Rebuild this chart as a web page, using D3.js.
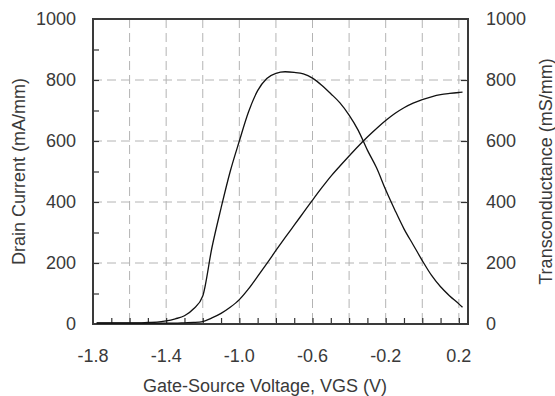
<!DOCTYPE html>
<html>
<head>
<meta charset="utf-8">
<script src="https://cdn.jsdelivr.net/npm/d3@7"></script>
<style>
  html, body { margin: 0; padding: 0; background: #fff; }
  svg text { font-family: Arial, "Liberation Sans", sans-serif; fill: #3a3a3a; }
</style>
</head>
<body>
<div id="chart"></div>
<script>
// gate-source voltage samples (V)
const vgs = [-1.78, -1.75, -1.70, -1.65, -1.60, -1.55, -1.50, -1.45, -1.40, -1.35,
  -1.30, -1.25, -1.20, -1.15, -1.10, -1.05, -1.00, -0.95, -0.90, -0.85,
  -0.80, -0.75, -0.70, -0.65, -0.60, -0.55, -0.50, -0.45, -0.40, -0.35,
  -0.30, -0.25, -0.20, -0.15, -0.10, -0.05, 0.00, 0.05, 0.10, 0.15, 0.20, 0.22];
// drain current (mA/mm)
const drainCurrent = [3, 3, 3, 3, 3, 3, 3, 3, 3, 3,
  4, 5, 8, 20, 35, 55, 80, 115, 156, 198,
  241, 283, 324, 365, 406, 446, 484, 518, 551, 583,
  613, 641, 667, 690, 709, 724, 736, 745, 752, 756, 759, 760];
// transconductance (mS/mm)
const transconductance = [4, 4, 4, 4, 4, 4, 5, 6, 10, 17,
  27, 50, 92, 250, 380, 500, 600, 695, 765, 805,
  822, 827, 825, 820, 806, 783, 755, 725, 685, 635,
  570, 512, 440, 374, 312, 260, 208, 160, 122, 92, 66, 55];

const xTickLabels = [-1.8, -1.4, -1.0, -0.6, -0.2, 0.2];
const yTickLabels = [0, 200, 400, 600, 800, 1000];

const width = 555, height = 396;
const margin = { top: 19, right: 87, bottom: 72, left: 93 };
const innerW = width - margin.left - margin.right;
const innerH = height - margin.top - margin.bottom;

const svg = d3.select('#chart').append('svg')
  .attr('width', width).attr('height', height);

const g = svg.append('g').attr('transform', `translate(${margin.left},${margin.top})`);

const x = d3.scaleLinear().domain([-1.8, 0.25]).range([0, innerW]);
const yL = d3.scaleLinear().domain([0, 1000]).range([innerH, 0]);
const yR = d3.scaleLinear().domain([0, 1000]).range([innerH, 0]);

// dashed grid
const gridX = d3.range(-1.6, 0.21, 0.2);
g.selectAll('line.gx').data(gridX).enter().append('line')
  .attr('x1', d => x(d)).attr('x2', d => x(d))
  .attr('y1', 0).attr('y2', innerH)
  .attr('stroke', '#b4b4b4').attr('stroke-dasharray', '9,5');
g.selectAll('line.gy').data([200, 400, 600, 800]).enter().append('line')
  .attr('x1', 0).attr('x2', innerW)
  .attr('y1', d => yL(d)).attr('y2', d => yL(d))
  .attr('stroke', '#b4b4b4').attr('stroke-dasharray', '9,5');

// axes (inward ticks, labels drawn separately)
const axisBottom = d3.axisBottom(x).tickValues(d3.range(-1.7, 0.21, 0.1))
  .tickSize(-6).tickFormat('');
const axisLeft = d3.axisLeft(yL).tickValues(d3.range(100, 1000, 100))
  .tickSize(-6).tickFormat('');
const axisRight = d3.axisRight(yR).tickValues([200, 400, 600, 800])
  .tickSize(-7).tickFormat('');

function styleAxis(sel) {
  sel.select('.domain').remove();
  sel.selectAll('.tick line').attr('stroke', '#333').attr('stroke-width', 1.2);
}
g.append('g').attr('transform', `translate(0,${innerH})`).call(axisBottom).call(styleAxis);
g.append('g').call(axisLeft).call(styleAxis);
g.append('g').attr('transform', `translate(${innerW},0)`).call(axisRight).call(styleAxis);

// frame
g.append('rect').attr('x', 0).attr('y', 0).attr('width', innerW).attr('height', innerH)
  .attr('fill', 'none').attr('stroke', '#3a3a3a').attr('stroke-width', 2);

// curves
const lineL = d3.line().x((d, i) => x(vgs[i])).y(d => yL(d)).curve(d3.curveMonotoneX);
const lineR = d3.line().x((d, i) => x(vgs[i])).y(d => yR(d)).curve(d3.curveMonotoneX);
g.append('path').datum(drainCurrent).attr('d', lineL)
  .attr('fill', 'none').attr('stroke', '#111').attr('stroke-width', 1.3);
g.append('path').datum(transconductance).attr('d', lineR)
  .attr('fill', 'none').attr('stroke', '#111').attr('stroke-width', 1.3);

// tick labels
const fs = 18;
g.selectAll('text.xl').data(xTickLabels).enter().append('text')
  .attr('x', d => x(d)).attr('y', innerH + 38)
  .attr('text-anchor', 'middle').style('font-size', fs + 'px')
  .text(d => d3.format('.1f')(d).replace('−', '-'));
g.selectAll('text.yl').data(yTickLabels).enter().append('text')
  .attr('x', -17).attr('y', d => yL(d)).attr('dy', '0.35em')
  .attr('text-anchor', 'end').style('font-size', fs + 'px')
  .text(d => d);
g.selectAll('text.yr').data(yTickLabels).enter().append('text')
  .attr('x', innerW + 18).attr('y', d => yR(d)).attr('dy', '0.35em')
  .attr('text-anchor', 'start').style('font-size', fs + 'px')
  .text(d => d);

// axis titles
svg.append('text').attr('x', 265).attr('y', 392)
  .attr('text-anchor', 'middle').style('font-size', fs + 'px')
  .text('Gate-Source Voltage, VGS (V)');
svg.append('text')
  .attr('transform', `translate(25,${margin.top + innerH / 2}) rotate(-90)`)
  .attr('text-anchor', 'middle').style('font-size', fs + 'px')
  .text('Drain Current (mA/mm)');
svg.append('text')
  .attr('transform', `translate(552,${margin.top + innerH / 2}) rotate(-90)`)
  .attr('text-anchor', 'middle').style('font-size', fs + 'px')
  .text('Transconductance (mS/mm)');
</script>
</body>
</html>
